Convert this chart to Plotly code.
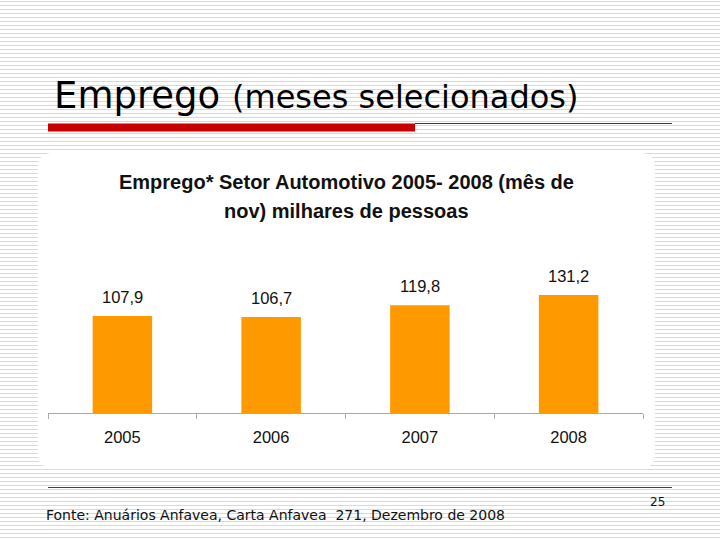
import plotly.graph_objects as go

W, H = 720, 540

years = ["2005", "2006", "2007", "2008"]
values = [107.9, 106.7, 119.8, 131.2]
value_labels = [f"{v:.1f}".replace(".", ",") for v in values]

chart_title_lines = ["Emprego* Setor Automotivo 2005- 2008 (mês de",
                     "nov) milhares de pessoas"]
slide_title_main = "Emprego"
slide_title_sub = "(meses selecionados)"
source_text = "Fonte: Anuários Anfavea, Carta Anfavea \u00a0271, Dezembro de 2008"
page_number = "25"

FONT = "Liberation Sans, Arial"

def px(x):
    return x / W

def py(y):
    return 1 - y / H

# plot area in pixels
x0, x1 = 48, 643
y_axis, y_top = 413, 230
scale = 0.899  # px per unit
yrange = (y_axis - y_top) / scale

fig = go.Figure()
fig.add_trace(go.Bar(
    x=years, y=values,
    marker=dict(color="#FF9900", line=dict(width=0)),
    hoverinfo="skip",
))

shapes = []
# striped background
path = ""
y = 1
while y < H:
    path += f"M0,{py(y + 0.5):.5f} L1,{py(y + 0.5):.5f} "
    y += 4
shapes.append(dict(type="path", xref="paper", yref="paper", path=path,
                   line=dict(color="#d9d9d9", width=1), layer="below"))

# white rounded panel
L, R, T, B, r = 38, 655, 153, 468, 14
def P(x, y):
    return f"{px(x):.5f},{py(y):.5f}"
panel = (f"M{P(L + r, T)} L{P(R - r, T)} Q{P(R, T)} {P(R, T + r)} "
         f"L{P(R, B - r)} Q{P(R, B)} {P(R - r, B)} L{P(L + r, B)} "
         f"Q{P(L, B)} {P(L, B - r)} L{P(L, T + r)} Q{P(L, T)} {P(L + r, T)} Z")
shapes.append(dict(type="path", xref="paper", yref="paper", path=panel,
                   fillcolor="white", line=dict(width=0), layer="below"))

# red title bar + thin line
shapes.append(dict(type="rect", xref="paper", yref="paper",
                   x0=px(48), x1=px(415), y0=py(131.5), y1=py(123.5),
                   fillcolor="#C80000", line=dict(width=0), layer="below"))
shapes.append(dict(type="line", xref="paper", yref="paper",
                   x0=px(415), x1=px(672), y0=py(123.5), y1=py(123.5),
                   line=dict(color="#9b1010", width=1), layer="below"))
# footer line
shapes.append(dict(type="line", xref="paper", yref="paper",
                   x0=px(48), x1=px(672), y0=py(487.5), y1=py(487.5),
                   line=dict(color="#8b1f30", width=1), layer="below"))

annotations = []
for i, (v, lab) in enumerate(zip(values, value_labels)):
    annotations.append(dict(x=i, y=v, xref="x", yref="y", text=lab,
                            showarrow=False, yshift=19,
                            font=dict(family=FONT, size=16.5, color="#111")))

for yy, line in zip([182, 211], chart_title_lines):
    annotations.append(dict(x=px(346), y=py(yy), xref="paper", yref="paper",
                            text=f"<b>{line}</b>", showarrow=False,
                            xanchor="center", yanchor="middle",
                            font=dict(family=FONT, size=20, color="#111")))
annotations.append(dict(x=px(52), y=py(95), xref="paper", yref="paper",
                        text=f"{slide_title_main} <span style='font-size:32px'>{slide_title_sub}</span>",
                        showarrow=False, xanchor="left", yanchor="middle",
                        font=dict(family="DejaVu Sans", size=37, color="#000")))
annotations.append(dict(x=px(44), y=py(515), xref="paper", yref="paper",
                        text=source_text, showarrow=False,
                        xanchor="left", yanchor="middle",
                        font=dict(family="DejaVu Sans", size=14, color="#111")))
annotations.append(dict(x=px(657), y=py(502), xref="paper", yref="paper",
                        text=page_number, showarrow=False,
                        xanchor="center", yanchor="middle",
                        font=dict(family="DejaVu Sans", size=12, color="#111")))

fig.update_layout(
    width=W, height=H,
    margin=dict(l=0, r=0, t=0, b=0),
    paper_bgcolor="white",
    plot_bgcolor="rgba(0,0,0,0)",
    showlegend=False,
    bargap=0.6,
    shapes=shapes,
    annotations=annotations,
    xaxis=dict(domain=[px(x0), px(x1)], type="category",
               range=[-0.5, 3.5], autorange=False, automargin=False,
               showline=True, linecolor="#aaaaaa", linewidth=1,
               ticks="outside", tickson="boundaries", ticklen=5, tickcolor="#aaaaaa",
               showgrid=False, zeroline=False, tickangle=0,
               tickfont=dict(family=FONT, size=16.5, color="#111"),
               ticklabelstandoff=9),
    yaxis=dict(domain=[py(y_axis), py(y_top)], range=[0, yrange], autorange=False,
               automargin=False, visible=False, showgrid=False, zeroline=False),
)

fig.write_html("out.html", config={"displayModeBar": False},
               post_script="document.body.style.margin='0';")
